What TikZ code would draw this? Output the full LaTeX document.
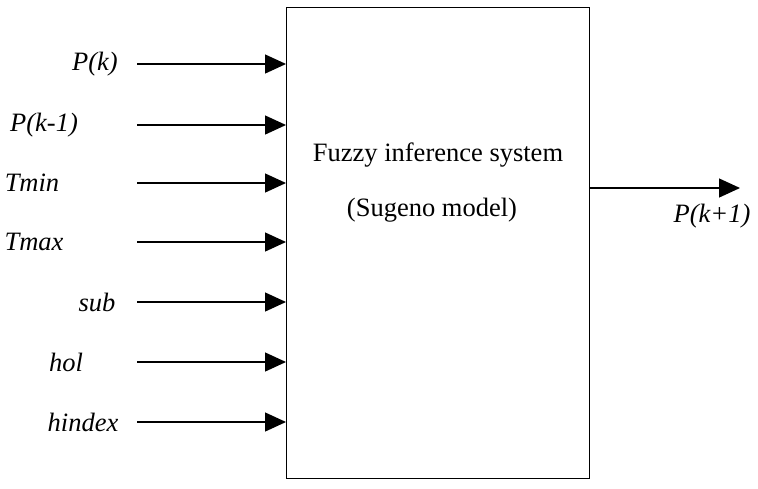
\documentclass[tikz,border=0pt]{standalone}
\usepackage{fontspec}
\setmainfont{Liberation Serif}
\usetikzlibrary{arrows.meta}
\begin{document}
\begin{tikzpicture}[x=1pt,y=-1pt,
  lbl/.style={font=\fontsize{26.5}{30}\selectfont\itshape, inner sep=0pt},
  txt/.style={font=\fontsize{26.5}{30}\selectfont, inner sep=0pt},
  arr/.style={line width=1.3pt, -{Triangle[length=21pt,width=19pt]}}]
\useasboundingbox (0,0) rectangle (758,488);
\node[draw, line width=1.3pt, minimum width=303pt, minimum height=471pt, inner sep=0pt, anchor=north west] (box) at (286,7) {};
\node[txt] (t1) at (438,155) {Fuzzy inference system};
\node[txt] (t2) at (432,210) {(Sugeno model)};
\foreach \n/\lx/\y/\t in {a/95/64/P(k), b/44/125/P(k-1), c/32/183/Tmin, d/34/242/Tmax, e/97/302/sub, f/66/362/hol, g/83/422/hindex}{
  \node[lbl] (l\n) at (\lx,\y) {\t};
  \coordinate (s\n) at (137,\y);
  \coordinate (e\n) at (box.west |- s\n);
  \draw[arr] (s\n) -- (e\n);
}
\coordinate (os) at (box.east |- 0,188);
\coordinate (oe) at (740,188);
\draw[arr] (os) -- (oe);
\node[lbl] (lo) at (712,216) {P(k+1)};
\end{tikzpicture}
\end{document}
